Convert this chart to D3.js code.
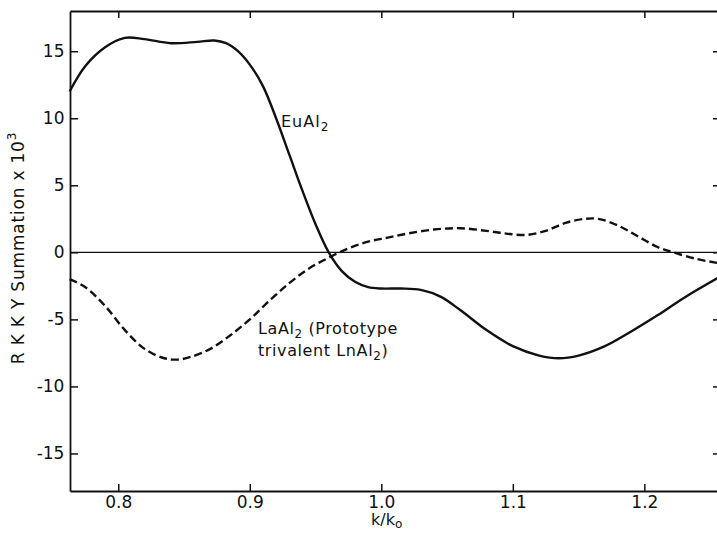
<!DOCTYPE html>
<html>
<head>
<meta charset="utf-8">
<script src="https://cdn.jsdelivr.net/npm/d3@7"></script>
<style>
  body { margin: 0; background: #fff; }
  text { font-family: "DejaVu Sans", sans-serif; fill: #111; }
</style>
</head>
<body>
<div id="chart"></div>
<script>
// k/k0 positions and RKKY sums (x 10^3)
var euK   = [0.763, 0.775, 0.79, 0.805, 0.82, 0.84, 0.86, 0.873, 0.882, 0.891, 0.9, 0.91, 0.92, 0.93, 0.94, 0.95, 0.96, 0.97, 0.98, 0.99, 1.0, 1.015, 1.03, 1.045, 1.06, 1.08, 1.1, 1.12, 1.135, 1.15, 1.17, 1.19, 1.21, 1.23, 1.256];
var euVal = [12.0, 13.9, 15.3, 16.0, 15.9, 15.6, 15.7, 15.8, 15.6, 15.0, 14.0, 12.4, 10.0, 7.3, 4.6, 2.1, 0.0, -1.4, -2.2, -2.6, -2.7, -2.7, -2.8, -3.3, -4.3, -5.8, -7.0, -7.7, -7.9, -7.7, -7.0, -5.9, -4.7, -3.4, -1.9];

var laK   = [0.763, 0.775, 0.79, 0.805, 0.82, 0.835, 0.845, 0.855, 0.87, 0.885, 0.9, 0.915, 0.93, 0.945, 0.96, 0.975, 0.99, 1.005, 1.02, 1.04, 1.06, 1.08, 1.095, 1.11, 1.125, 1.14, 1.155, 1.165, 1.18, 1.195, 1.21, 1.222, 1.24, 1.256];
var laVal = [-2.0, -2.6, -4.0, -5.8, -7.2, -7.9, -8.0, -7.8, -7.2, -6.2, -5.0, -3.6, -2.3, -1.2, -0.4, 0.3, 0.8, 1.1, 1.4, 1.7, 1.8, 1.6, 1.4, 1.3, 1.6, 2.2, 2.5, 2.5, 2.0, 1.2, 0.4, 0.0, -0.5, -0.8];

var xTicks = [0.8, 0.9, 1.0, 1.1, 1.2];
var xTickLabels = ["0.8", "0.9", "1.0", "1.1", "1.2"];
var yTicks = [-15, -10, -5, 0, 5, 10, 15];
var yTickLabels = ["-15", "-10", "-5", "0", "5", "10", "15"];

(function(){
  var width = 717, height = 533;
  var plotLeft = 70, plotTop = 11, plotRight = 718, plotBottom = 491;

  var svg = d3.select("#chart")
    .append("svg")
    .attr("width", width)
    .attr("height", height);

  var x = d3.scaleLinear().domain([0.7633, 1.256]).range([plotLeft, plotRight]);
  var y = d3.scaleLinear().domain([-17.8, 18]).range([plotBottom, plotTop]);

  // axes, ticks pointing inward like the original plot
  var bottomAxis = d3.axisBottom(x).tickValues(xTicks).tickSizeInner(-7).tickSizeOuter(0)
    .tickFormat(function(d, i){ return xTickLabels[i]; });
  var topAxis = d3.axisTop(x).tickValues(xTicks).tickSizeInner(-7).tickSizeOuter(0).tickFormat("");
  var leftAxis = d3.axisLeft(y).tickValues(yTicks).tickSizeInner(-8).tickSizeOuter(0)
    .tickFormat(function(d, i){ return yTickLabels[i]; });
  var rightAxis = d3.axisRight(y).tickValues(yTicks).tickSizeInner(-5).tickSizeOuter(0).tickFormat("");

  function styleAxis(g){
    g.select(".domain").attr("stroke", "#111").attr("stroke-width", 1.8);
    g.selectAll(".tick line").attr("stroke", "#111").attr("stroke-width", 1.5);
    g.selectAll(".tick text").attr("fill", "#111").style("font-family", "DejaVu Sans, sans-serif");
  }

  svg.append("g").attr("transform", "translate(0," + plotBottom + ")").call(bottomAxis).call(styleAxis)
    .selectAll(".tick text").attr("font-size", 17).attr("dy", "0.8em");
  svg.append("g").attr("transform", "translate(0," + plotTop + ")").call(topAxis).call(styleAxis);
  svg.append("g").attr("transform", "translate(" + plotLeft + ",0)").call(leftAxis).call(styleAxis)
    .selectAll(".tick text").attr("font-size", 17).attr("dx", "-0.15em");
  svg.append("g").attr("transform", "translate(" + plotRight + ",0)").call(rightAxis).call(styleAxis);

  // zero line
  svg.append("line")
    .attr("x1", plotLeft).attr("x2", plotRight)
    .attr("y1", y(0)).attr("y2", y(0))
    .attr("stroke", "#111").attr("stroke-width", 1.2);

  var line = d3.line()
    .x(function(d){ return x(d[0]); })
    .y(function(d){ return y(d[1]); })
    .curve(d3.curveCatmullRom.alpha(0.5));

  svg.append("path")
    .datum(d3.zip(euK, euVal))
    .attr("d", line)
    .attr("fill", "none")
    .attr("stroke", "#111")
    .attr("stroke-width", 2.4);

  svg.append("path")
    .datum(d3.zip(laK, laVal))
    .attr("d", line)
    .attr("fill", "none")
    .attr("stroke", "#111")
    .attr("stroke-width", 2.4)
    .attr("stroke-dasharray", "8,4");

  // curve labels
  var eu = svg.append("text").attr("x", 281).attr("y", 127).attr("font-size", 16).attr("letter-spacing", 1);
  eu.append("tspan").text("EuAl");
  eu.append("tspan").text("2").attr("font-size", 12).attr("dy", 4);

  var la1 = svg.append("text").attr("x", 258).attr("y", 334).attr("font-size", 16).attr("letter-spacing", 0.6);
  la1.append("tspan").text("LaAl");
  la1.append("tspan").text("2").attr("font-size", 12).attr("dy", 4);
  la1.append("tspan").text("  (Prototype").attr("dy", -4);

  var la2 = svg.append("text").attr("x", 258).attr("y", 356).attr("font-size", 16).attr("letter-spacing", 0.6);
  la2.append("tspan").text("trivalent LnAl");
  la2.append("tspan").text("2").attr("font-size", 12).attr("dy", 4);
  la2.append("tspan").text(")").attr("dy", -4);

  // axis titles
  var xt = svg.append("text").attr("x", 371).attr("y", 525).attr("font-size", 16);
  xt.append("tspan").text("k/k");
  xt.append("tspan").text("o").attr("font-size", 12).attr("dy", 3);

  var yt = svg.append("text")
    .attr("transform", "translate(24,248) rotate(-90)")
    .attr("text-anchor", "middle")
    .attr("font-size", 17)
    .attr("letter-spacing", 0.8);
  yt.append("tspan").text("R K K Y  Summation x 10");
  yt.append("tspan").text("3").attr("font-size", 12).attr("dy", -8);
})();
</script>
</body>
</html>
